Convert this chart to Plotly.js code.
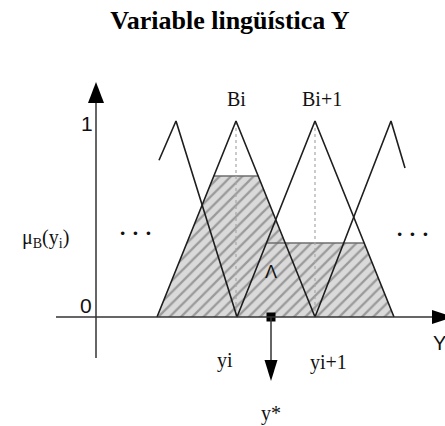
<!DOCTYPE html>
<html>
<head>
<meta charset="utf-8">
<script src="https://cdn.plot.ly/plotly-3.0.1.min.js"></script>
<style>html,body{margin:0;padding:0;background:#fff;}#chart{width:445px;height:426px;}</style>
</head>
<body>
<div id="chart"></div>
<script>
// ---- data (universe position Y, membership mu) ----
const triX  = [[159, 176, 237], [157, 236, 315], [237, 315, 394], [315, 391, 405]];
const triMu = [[0.80, 1, 0],     [0, 1, 0],       [0, 1, 0],       [0, 1, 0.76]];
const clipSet = [1, 2];          // Bi, Bi+1
const clipMu  = [0.72, 0.378];   // clipping levels
const peakLabels = ['Bi', 'Bi+1'];
const footLabels = ['yi', 'yi+1'];
const yStar = 271;

// ---- geometry helpers (figure pixel -> axis units) ----
const W = 445, H = 426, BASE = 317, PPU = 196;
const m = py => (BASE - py) / PPU;

// clipped-set envelope (union of the two clipped triangles)
const A = triX[clipSet[0]], B = triX[clipSet[1]];
const a1 = clipMu[0], a2 = clipMu[1];
const shadeX = [A[0], A[0] + a1 * (A[1] - A[0]), A[2] - a1 * (A[2] - A[1]),
                A[2] - a2 * (A[2] - A[1]), B[2] - a2 * (B[2] - B[1]), B[2], A[0]];
const shadeY = [0, a1, a1, a2, a2, 0, 0];

const traces = [];
traces.push({
  x: shadeX, y: shadeY, mode: 'lines', fill: 'toself',
  fillcolor: '#d9d9d9',
  fillpattern: {shape: '/', fgcolor: '#9a9a9a', bgcolor: '#dadada', size: 8, solidity: 0.28},
  line: {width: 0}, hoverinfo: 'skip'
});
// clipping level lines
clipSet.forEach((s, k) => {
  const t = triX[s], a = clipMu[k];
  traces.push({x: [t[0] + a * (t[1] - t[0]), t[2] - a * (t[2] - t[1])], y: [a, a],
    mode: 'lines', line: {color: '#6e6e6e', width: 1.5}, hoverinfo: 'skip'});
  traces.push({x: [t[1], t[1]], y: [0, 1], mode: 'lines',
    line: {color: '#a8a8a8', width: 1.2, dash: '3px,3px'}, hoverinfo: 'skip'});
});
// triangle outlines
triX.forEach((xs, i) => {
  traces.push({x: xs, y: triMu[i], mode: 'lines', line: {color: '#1e1e1e', width: 1.6}, hoverinfo: 'skip'});
});
// defuzzified point
traces.push({x: [yStar], y: [0], mode: 'markers',
  marker: {symbol: 'square', size: 9, color: '#000'}, hoverinfo: 'skip'});

const shapes = [
  // vertical axis
  {type: 'line', x0: 96, x1: 96, y0: m(358), y1: m(100), line: {color: '#333', width: 1.5}},
  {type: 'path', path: `M96,${m(82)} L88,${m(103)} L104,${m(103)} Z`, fillcolor: '#000', line: {width: 0}},
  // horizontal axis
  {type: 'line', x0: 56, x1: 434, y0: 0, y1: 0, line: {color: '#333', width: 1.6}},
  {type: 'path', path: `M453,0 L432,${m(310)} L432,${m(324)} Z`, fillcolor: '#000', line: {width: 0}},
  // y* arrow
  {type: 'line', x0: yStar, x1: yStar, y0: 0, y1: m(362), line: {color: '#333', width: 1.5}},
  {type: 'path', path: `M${yStar},${m(381)} L${yStar - 6.5},${m(360)} L${yStar + 6.5},${m(360)} Z`, fillcolor: '#000', line: {width: 0}}
];

const serif = 'Liberation Serif, Times New Roman, serif';
const sans = 'Liberation Sans, Arial, sans-serif';
const ann = (x, y, text, fam, size, extra) => Object.assign({x, y, text, showarrow: false,
  xanchor: 'center', yanchor: 'middle', font: {family: fam, size, color: '#111'}}, extra || {});

const annotations = [
  ann(triX[clipSet[0]][1], m(99), peakLabels[0], serif, 20),
  ann(triX[clipSet[1]][1], m(99), peakLabels[1], serif, 20, {xshift: 7}),
  ann(triX[0][2], m(360), footLabels[0], serif, 20, {xshift: -12}),
  ann(triX[2][0] + 79, m(362), footLabels[1], serif, 20, {xshift: 12}),
  ann(yStar, m(413), 'y*', serif, 20),
  ann(87, m(123), '1', sans, 21),
  ann(86, m(305), '0', sans, 21),
  ann(45, m(238), 'μ<sub>B</sub>(y<sub>i</sub>)', serif, 20),
  ann(135, m(232), '· · ·', serif, 22, {font: {family: serif, size: 22, color: '#111', weight: 'bold'}}),
  ann(412, m(233), '· · ·', serif, 22, {font: {family: serif, size: 22, color: '#111', weight: 'bold'}}),
  ann(271, m(272), 'Λ', sans, 18),
  ann(439, m(343), 'Y', sans, 20)
];

const layout = {
  width: W, height: H,
  margin: {l: 0, r: 0, t: 0, b: 0, pad: 0},
  paper_bgcolor: '#fff', plot_bgcolor: '#fff',
  showlegend: false,
  title: {text: '<b>Variable lingüística Y</b>', x: 230 / W, xanchor: 'center',
          y: 1 - 20 / H, yanchor: 'middle', font: {family: serif, size: 26, color: '#000'}},
  xaxis: {range: [0, W], visible: false, fixedrange: true},
  yaxis: {range: [m(H), m(0)], visible: false, fixedrange: true},
  shapes, annotations
};

Plotly.newPlot('chart', traces, layout, {staticPlot: true, displayModeBar: false});
</script>
</body>
</html>
